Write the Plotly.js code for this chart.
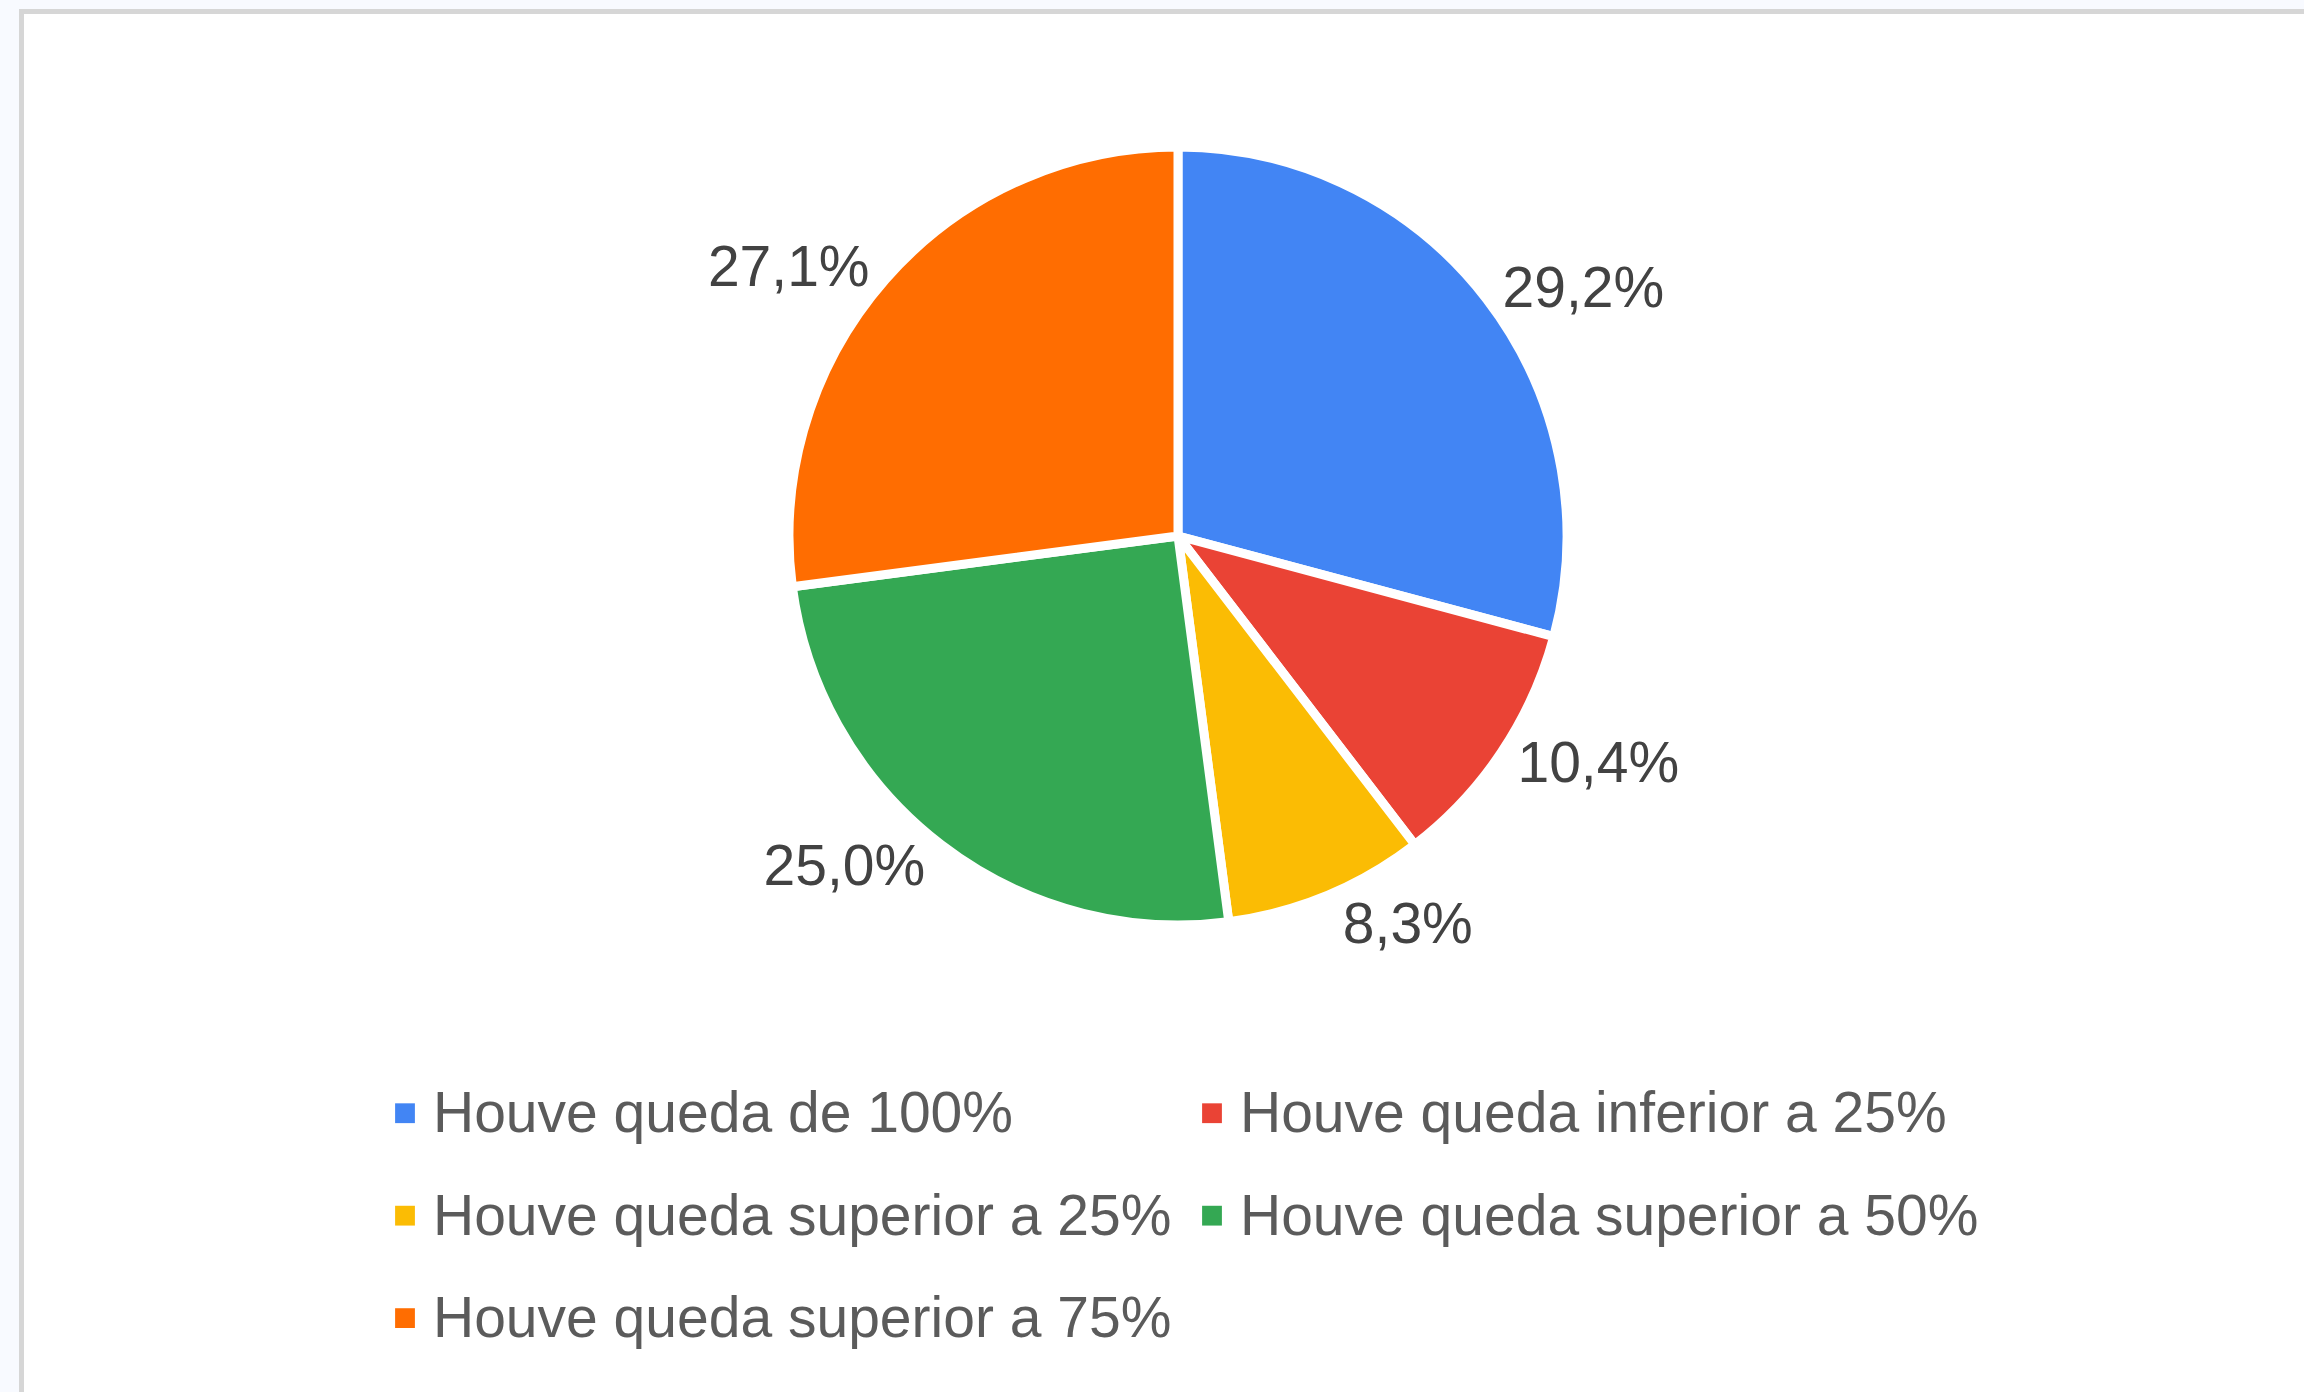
<!DOCTYPE html>
<html>
<head>
<meta charset="utf-8">
<script src="https://cdn.plot.ly/plotly-3.0.1.min.js"></script>
<style>
  html, body { margin: 0; padding: 0; width: 2304px; height: 1392px; overflow: hidden; background: #f8faff; }
  #card { position: absolute; left: 19px; top: 9px; width: 2400px; height: 1500px; background: #ffffff;
          border-left: 5px solid #d6d6d6; border-top: 5px solid #d6d6d6; }
  #chart { position: absolute; left: 0; top: 0; width: 2304px; height: 1392px; }
  #chart path.legendpie { stroke-width: 0 !important; transform: translate(19px, 11px) scale(1.65); }
  #chart text.legendtext { transform: translate(7px, 0px); }
</style>
</head>
<body>
<div id="card"></div>
<div id="chart"></div>
<script>
// Categories (legend labels)
const categories = [
  "Houve queda de 100%",
  "Houve queda inferior a 25%",
  "Houve queda superior a 25%",
  "Houve queda superior a 50%",
  "Houve queda superior a 75%"
];
// Response counts (shares: 29,2% / 10,4% / 8,3% / 25,0% / 27,1%)
const counts = [14, 5, 4, 12, 13];
const sliceColors = ["#4285F4", "#EA4335", "#FBBC04", "#34A853", "#FF6D01"];

const total = counts.reduce((a, b) => a + b, 0);
const pctText = counts.map(v => (100 * v / total).toFixed(1).replace(".", ",") + "%");
const legendLabels = categories.map(c => '<span style="font-size:57px">' + c + '</span>');

const trace = {
  type: "pie",
  labels: legendLabels,
  values: counts,
  text: pctText,
  textinfo: "text",
  textposition: "outside",
  sort: false,
  direction: "clockwise",
  rotation: 0,
  marker: { colors: sliceColors, line: { color: "#ffffff", width: 9 } },
  outsidetextfont: { family: "Liberation Sans, Arial, sans-serif", size: 57, color: "#424242" },
  domain: { x: [789 / 2304, 1567 / 2304], y: [1 - 925 / 1392, 1 - 147 / 1392] },
  hoverinfo: "none"
};

const layout = {
  width: 2304,
  height: 1392,
  margin: { l: 0, r: 0, t: 0, b: 0 },
  paper_bgcolor: "rgba(0,0,0,0)",
  plot_bgcolor: "rgba(0,0,0,0)",
  font: { family: "Liberation Sans, Arial, sans-serif", color: "#5b5b5b" },
  showlegend: true,
  legend: {
    orientation: "h",
    x: 386 / 2304,
    xanchor: "left",
    y: 1 - 1046 / 1392,
    yanchor: "top",
    font: { size: 76.5, color: "#5b5b5b", family: "Liberation Sans, Arial, sans-serif" },
    entrywidth: 762,
    entrywidthmode: "pixels",
    bgcolor: "rgba(0,0,0,0)"
  }
};

Plotly.newPlot("chart", [trace], layout, { staticPlot: true, displayModeBar: false });
</script>
</body>
</html>
